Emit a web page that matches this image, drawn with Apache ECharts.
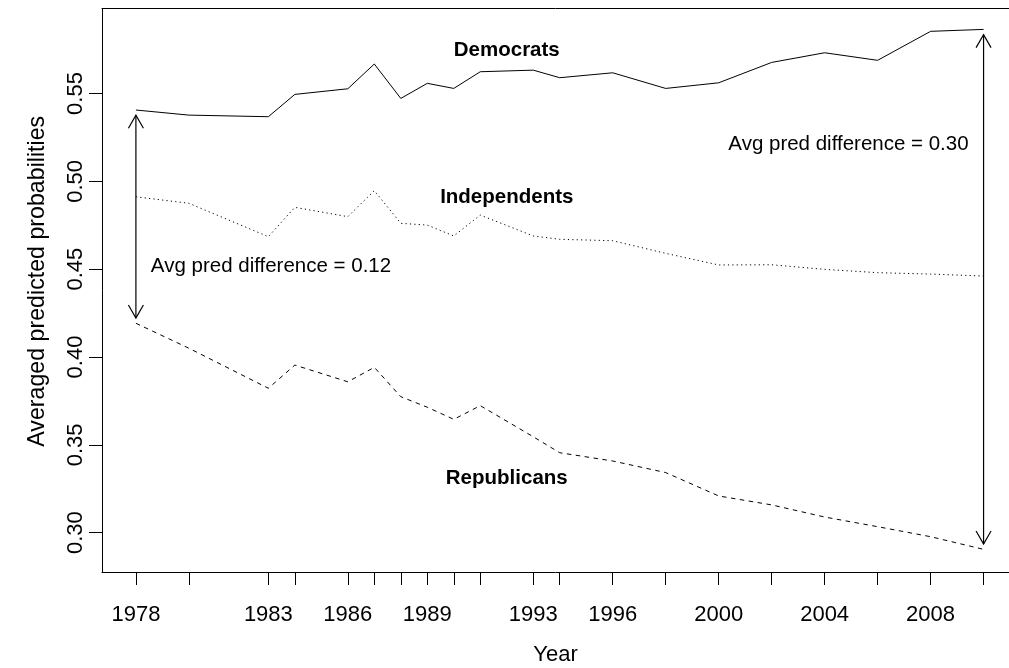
<!DOCTYPE html>
<html>
<head>
<meta charset="utf-8">
<script src="https://cdn.jsdelivr.net/npm/echarts@6/dist/echarts.min.js"></script>
<style>
  html, body { margin: 0; padding: 0; background: #ffffff; }
  #chart { width: 1009px; height: 668px; }
</style>
</head>
<body>
<div id="chart"></div>
<script>
// Survey years and averaged predicted probabilities by party identification
const years = [1978, 1980, 1983, 1984, 1986, 1987, 1988, 1989, 1990, 1991,
               1993, 1994, 1996, 1998, 2000, 2002, 2004, 2006, 2008, 2010];
const democrats = [0.5406, 0.5377, 0.5368, 0.5495, 0.5527, 0.5668, 0.5472, 0.5558, 0.5529, 0.5624,
                   0.5633, 0.5590, 0.5618, 0.5529, 0.5561, 0.5677, 0.5732, 0.5689, 0.5854, 0.5865];
const independents = [0.4912, 0.4875, 0.4685, 0.4852, 0.4799, 0.4947, 0.4761, 0.4751, 0.4689, 0.4808,
                      0.4689, 0.4670, 0.4662, 0.4590, 0.4524, 0.4525, 0.4499, 0.4480, 0.4472, 0.4461];
const republicans = [0.4192, 0.4050, 0.3822, 0.3954, 0.3859, 0.3941, 0.3774, 0.3714, 0.3645, 0.3723,
                     0.3546, 0.3455, 0.3408, 0.3342, 0.3209, 0.3158, 0.3089, 0.3034, 0.2977, 0.2905];

// Tick marks at every survey year; only non-overlapping years get a label
const yearTicks = years;
const yearLabels = [1978, 1983, 1986, 1989, 1993, 1996, 2000, 2004, 2008];
const probTicks = [0.30, 0.35, 0.40, 0.45, 0.50, 0.55];
const partyNames = ['Democrats', 'Independents', 'Republicans'];

const FONT = '"Liberation Sans", Arial, Helvetica, sans-serif';
const TICK_FS = 22;
const TEXT_FS = 20.5;

const last = years.length - 1;
const diffAt = i => (democrats[i] - republicans[i]).toFixed(2);

// Text annotations placed in data coordinates
const notes = [
  { x: 1992, y: 0.5746, text: partyNames[0], bold: true },
  { x: 1992, y: 0.4909, text: partyNames[1], bold: true },
  { x: 1992, y: 0.3312, text: partyNames[2], bold: true },
  { x: 1983.1, y: 0.4516, text: 'Avg pred difference = ' + diffAt(0), bold: false },
  { x: 2004.9, y: 0.5211, text: 'Avg pred difference = ' + diffAt(last), bold: false }
];

// Double-headed arrows spanning the Democrat–Republican gap
const gaps = [
  [years[0], democrats[0], republicans[0]],
  [years[last], democrats[last], republicans[last]]
];

const pairs = vals => years.map((y, i) => [y, vals[i]]);

const frame = { color: '#000', width: 1 };

const chart = echarts.init(document.getElementById('chart'), null, { renderer: 'canvas' });

chart.setOption({
  animation: false,
  backgroundColor: '#ffffff',
  grid: {
    left: 102, top: 8.5, right: 0, height: 563.5,
    show: false,
    containLabel: false,
    outerBoundsMode: 'none'
  },
  xAxis: [
    {
      type: 'value',
      min: 1976.72, max: 2010.96,
      position: 'bottom',
      name: 'Year',
      nameLocation: 'middle',
      nameGap: 72,
      nameTextStyle: { color: '#000', fontSize: 22, fontFamily: FONT },
      axisLine: { show: true, onZero: false, lineStyle: frame },
      splitLine: { show: false },
      axisTick: {
        show: true, customValues: yearTicks, length: 13, inside: false,
        lineStyle: frame
      },
      axisLabel: {
        customValues: yearLabels, margin: 32,
        color: '#000', fontSize: TICK_FS, fontFamily: FONT,
        formatter: v => String(v)
      }
    },
    {
      // top edge of the plot frame
      type: 'value',
      min: 1976.72, max: 2010.96,
      position: 'top',
      axisLine: { show: true, onZero: false, lineStyle: frame },
      axisTick: { show: false },
      axisLabel: { show: false },
      splitLine: { show: false }
    }
  ],
  yAxis: {
    type: 'value',
    min: 0.2776, max: 0.5984,
    name: 'Averaged predicted probabilities',
    nameLocation: 'middle',
    nameRotate: 90,
    nameGap: 53,
    nameTextStyle: {
      color: '#000', fontSize: 23.2, fontFamily: FONT,
      padding: [0, 0, 0, 18]
    },
    axisLine: { show: true, onZero: false, lineStyle: frame },
    splitLine: { show: false },
    axisTick: {
      show: true, customValues: probTicks, length: 13, inside: false,
      lineStyle: frame
    },
    axisLabel: {
      customValues: probTicks, rotate: 90, margin: 15,
      color: '#000', fontSize: TICK_FS, fontFamily: FONT,
      formatter: v => v.toFixed(2)
    }
  },
  series: [
    {
      name: partyNames[0], type: 'line', data: pairs(democrats),
      symbol: 'none', silent: true,
      lineStyle: { color: '#000', width: 1, type: 'solid' }
    },
    {
      name: partyNames[1], type: 'line', data: pairs(independents),
      symbol: 'none', silent: true,
      lineStyle: { color: '#000', width: 1, type: [1.2, 3.2] }
    },
    {
      name: partyNames[2], type: 'line', data: pairs(republicans),
      symbol: 'none', silent: true,
      lineStyle: { color: '#000', width: 1, type: [4.5, 4.5] }
    },
    {
      name: 'gap arrows', type: 'custom', silent: true,
      data: gaps,
      encode: { x: 0, y: [1, 2] },
      renderItem(params, api) {
        const x = api.value(0), hi = api.value(1), lo = api.value(2);
        const pad = 0.003;
        const top = api.coord([x, hi - pad]);
        const bot = api.coord([x, lo + pad]);
        const W = 7.5, H = 13;
        const st = { stroke: '#000', lineWidth: 1.2, fill: null };
        return {
          type: 'group',
          children: [
            { type: 'line', shape: { x1: top[0], y1: top[1], x2: bot[0], y2: bot[1] }, style: st },
            { type: 'polyline', shape: { points: [[top[0] - W, top[1] + H], top, [top[0] + W, top[1] + H]] }, style: st },
            { type: 'polyline', shape: { points: [[bot[0] - W, bot[1] - H], bot, [bot[0] + W, bot[1] - H]] }, style: st }
          ]
        };
      }
    },
    {
      name: 'notes', type: 'custom', silent: true,
      data: notes.map(n => [n.x, n.y]),
      encode: { x: 0, y: 1 },
      renderItem(params, api) {
        const n = notes[params.dataIndex];
        const p = api.coord([api.value(0), api.value(1)]);
        return {
          type: 'text', x: p[0], y: p[1],
          style: {
            text: n.text, fill: '#000',
            font: (n.bold ? 'bold ' : '') + TEXT_FS + 'px ' + FONT,
            align: 'center', verticalAlign: 'middle'
          }
        };
      }
    }
  ]
});
</script>
</body>
</html>
